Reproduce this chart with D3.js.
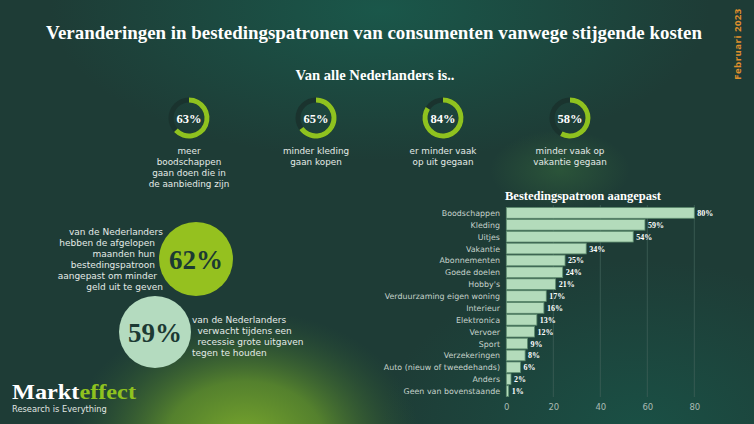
<!DOCTYPE html>
<html><head><meta charset="utf-8">
<script src="https://cdn.jsdelivr.net/npm/d3@7"></script>
<style>html,body{margin:0;padding:0;background:#1d3b35;}svg{display:block;}</style>
</head><body>
<script>
const categories = ["Boodschappen","Kleding","Uitjes","Vakantie","Abonnementen","Goede doelen","Hobby's","Verduurzaming eigen woning","Interieur","Elektronica","Vervoer","Sport","Verzekeringen","Auto (nieuw of tweedehands)","Anders","Geen van bovenstaande"];
const values = [80,59,54,34,25,24,21,17,16,13,12,9,8,6,2,1];
const xTicks = [0,20,40,60,80];
const donutValues = [63,65,84,58];
const donutLabels = [
  ["meer","boodschappen","gaan doen die in","de aanbieding zijn"],
  ["minder kleding","gaan kopen"],
  ["er minder vaak","op uit gegaan"],
  ["minder vaak op","vakantie gegaan"]
];
const statValues = [62,59];
const statLabels = [
  ["van de Nederlanders","hebben de afgelopen","maanden hun","bestedingspatroon","aangepast om minder","geld uit te geven"],
  ["van de Nederlanders","verwacht tijdens een","recessie grote uitgaven","tegen te houden"]
];

const W=754,H=424;
const serif="'Liberation Serif','DejaVu Serif',serif";
const sans="'Open Sans','Noto Sans',sans-serif";
const body="'DejaVu Sans','Noto Sans',sans-serif";
const svg=d3.select("body").append("svg").attr("width",W).attr("height",H);
const defs=svg.append("defs");
function rg(id,stops){const g=defs.append("radialGradient").attr("id",id);stops.forEach(s=>g.append("stop").attr("offset",s[0]).attr("stop-color",s[1]).attr("stop-opacity",s[2]));}
rg("gTop",[[0,"#1a574a",1],[1,"#1a574a",0]]);
rg("gYel",[[0,"#7aa82c",1],[0.45,"#5e8d2c",0.85],[1,"#2f5a33",0]]);
rg("gRB",[[0,"#1a5045",1],[1,"#1a5045",0]]);
rg("gMid",[[0,"#2e5a3a",0.8],[1,"#2e5a3a",0]]);
svg.append("rect").attr("width",W).attr("height",H).attr("fill","#1e3c36");
svg.append("ellipse").attr("cx",380).attr("cy",10).attr("rx",330).attr("ry",150).attr("fill","url(#gTop)");
svg.append("ellipse").attr("cx",640).attr("cy",430).attr("rx",260).attr("ry",170).attr("fill","url(#gRB)");
svg.append("ellipse").attr("cx",560).attr("cy",170).attr("rx",70).attr("ry",40).attr("fill","url(#gMid)");
svg.append("ellipse").attr("cx",245).attr("cy",440).attr("rx",175).attr("ry",130).attr("fill","url(#gYel)");

// Title
svg.append("text").attr("x",374).attr("y",39).attr("text-anchor","middle").attr("fill","#fff")
  .attr("font-family",serif).attr("font-weight","bold").attr("font-size",19).attr("textLength",656).attr("lengthAdjust","spacingAndGlyphs")
  .text("Veranderingen in bestedingspatronen van consumenten vanwege stijgende kosten");
svg.append("text").attr("x",375).attr("y",80).attr("text-anchor","middle").attr("fill","#fff")
  .attr("font-family",serif).attr("font-weight","bold").attr("font-size",14.5).attr("textLength",159).attr("lengthAdjust","spacingAndGlyphs")
  .text("Van alle Nederlanders is..");

// Februari 2023
svg.append("text").attr("transform","translate(741,44) rotate(-90)").attr("text-anchor","middle").attr("fill","#e0902c")
  .attr("font-family",sans).attr("font-weight","bold").attr("font-size",9.6).attr("letter-spacing",0.5).text("Februari 2023");

// Donuts
const donutX = d3.scalePoint().domain(d3.range(donutValues.length)).range([189,570]);
const arc=d3.arc().innerRadius(15.5).outerRadius(20.5);
const pctAngle=d3.scaleLinear().domain([0,100]).range([0,2*Math.PI]);
donutValues.forEach((v,i)=>{
  const g=svg.append("g").attr("transform",`translate(${donutX(i)},118)`);
  g.append("path").attr("d",arc({startAngle:0,endAngle:2*Math.PI})).attr("fill","#1a332e");
  g.append("path").attr("d",arc({startAngle:0,endAngle:pctAngle(v)})).attr("fill","#8fc21f");
  g.append("text").attr("y",4.5).attr("text-anchor","middle").attr("fill","#fff").attr("font-family",serif)
    .attr("font-weight","bold").attr("font-size",12.5).text(v+"%");
  donutLabels[i].forEach((l,j)=>{
    svg.append("text").attr("x",donutX(i)).attr("y",153.5+j*11).attr("text-anchor","middle").attr("fill","#e4ebe7")
      .attr("font-family",body).attr("font-size",8.8).text(l);
  });
});

// Big stat circles
const statPos=[{x:196,y:259,r:37,fill:"#95c11f"},{x:155,y:332,r:36,fill:"#b4dbbf"}];
statValues.forEach((v,i)=>{
  const p=statPos[i];
  svg.append("circle").attr("cx",p.x).attr("cy",p.y).attr("r",p.r).attr("fill",p.fill);
  svg.append("text").attr("x",p.x).attr("y",p.y+9.5).attr("text-anchor","middle").attr("fill","#1c3a33")
    .attr("font-family",serif).attr("font-weight","bold").attr("font-size",27).text(v+"%");
});
const leftEnds=[163,155,155,155,157,163];
statLabels[0].forEach((l,j)=>{
  svg.append("text").attr("x",leftEnds[j]).attr("y",235+j*10.9).attr("text-anchor","end").attr("fill","#e4ebe7")
    .attr("font-family",body).attr("font-size",9).text(l);
});
const rightStarts=[192,197.5,197.5,192];
statLabels[1].forEach((l,j)=>{
  svg.append("text").attr("x",rightStarts[j]).attr("y",323+j*11).attr("text-anchor","start").attr("fill","#e4ebe7")
    .attr("font-family",body).attr("font-size",9).text(l);
});

// Bar chart
svg.append("text").attr("x",583).attr("y",200).attr("text-anchor","middle").attr("fill","#fff")
  .attr("font-family",serif).attr("font-weight","bold").attr("font-size",13.5).attr("textLength",156).attr("lengthAdjust","spacingAndGlyphs")
  .text("Bestedingspatroon aangepast");
const x=d3.scaleLinear().domain([0,80]).range([506.3,694.3]);
const y=d3.scaleBand().domain(categories).range([207,397]).paddingInner(0.1).paddingOuter(0.05);
const grid=svg.append("g");
grid.selectAll("line").data(xTicks.slice(1)).join("line").attr("x1",d=>x(d)).attr("x2",d=>x(d))
  .attr("y1",205).attr("y2",397).attr("stroke","#3d5f57").attr("stroke-width",0.8);
const xAxis=svg.append("g").attr("transform","translate(0,397)").call(d3.axisBottom(x).tickValues(xTicks).tickSize(0).tickPadding(7));
xAxis.select(".domain").remove();
xAxis.selectAll("text").attr("fill","#a9bbb3").attr("font-family",body).attr("font-size",8.5);
svg.append("g").selectAll("rect").data(values).join("rect")
  .attr("x",x(0)).attr("y",(d,i)=>y(categories[i])).attr("width",d=>x(d)-x(0)).attr("height",y.bandwidth())
  .attr("fill","#b3dbbb").attr("stroke","#5d8c6e").attr("stroke-width",0.8);
svg.append("g").selectAll("text").data(values).join("text")
  .attr("x",d=>x(d)+3).attr("y",(d,i)=>y(categories[i])+y.bandwidth()/2+3).attr("fill","#fff")
  .attr("font-family",serif).attr("font-weight","bold").attr("font-size",8).text(d=>d+"%");
svg.append("g").selectAll("text").data(categories).join("text")
  .attr("x",500).attr("y",d=>y(d)+y.bandwidth()/2+3).attr("text-anchor","end").attr("fill","#c5d2cb")
  .attr("font-family",body).attr("font-size",7.9).text(d=>d);

// Logo
const logo=svg.append("text").attr("x",12).attr("y",399).attr("font-family",serif).attr("font-weight","bold").attr("font-size",22).attr("textLength",124).attr("lengthAdjust","spacingAndGlyphs");
logo.append("tspan").attr("fill","#fff").text("Markt");
logo.append("tspan").attr("fill","#8fc21f").text("effect");
svg.append("text").attr("x",12).attr("y",412).attr("fill","#e0e6e2").attr("font-family",body).attr("font-size",8.3).text("Research is Everything");
</script>
</body></html>
